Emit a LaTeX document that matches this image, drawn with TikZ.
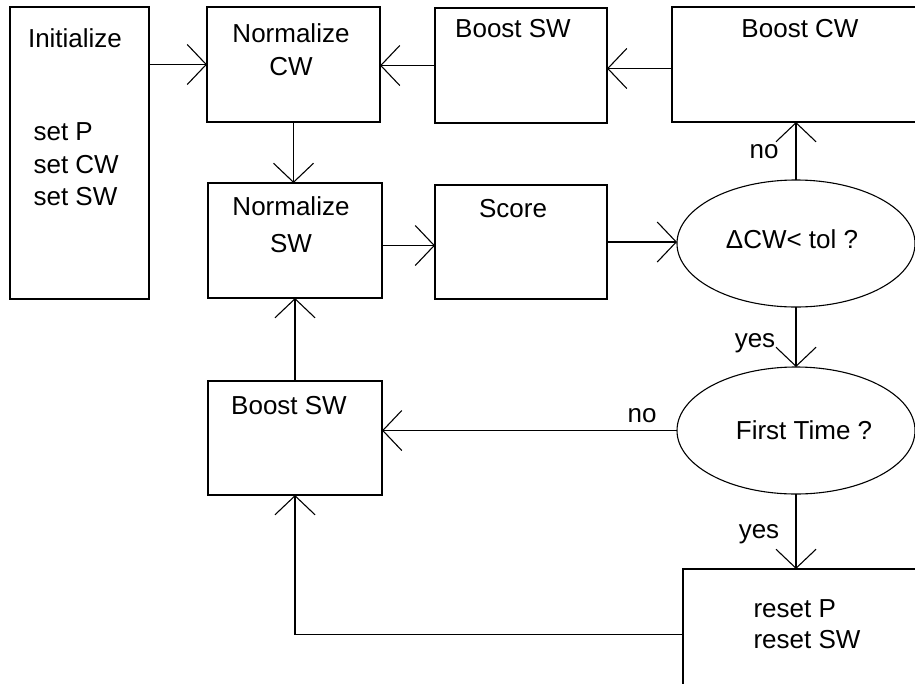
\documentclass[tikz,border=0pt]{standalone}
\usepackage{fontspec}
\setmainfont{Liberation Sans}
\usetikzlibrary{shapes.geometric,arrows.meta,calc}
\begin{document}
\begin{tikzpicture}[x=1pt,y=-1pt, line width=1.1pt,
  box/.style={draw, rectangle, inner sep=0pt, outer sep=0pt},
  dec/.style={draw, ellipse, inner sep=0pt, outer sep=0pt, minimum width=238pt, minimum height=127pt},
  txt/.style={inner sep=0pt, font=\fontsize{26}{30}\selectfont, anchor=base},
  ltxt/.style={txt, anchor=base west},
  arr/.style={-{Straight Barb[length=19pt,width=40pt]}}]
\useasboundingbox (0,0) rectangle (915,683);
\fill[white] (0,0) rectangle (915,683);
\clip (0,0) rectangle (915,683);
% boxes
\node[box, minimum width=139pt, minimum height=292pt] (init) at (79.5,153) {};
\node[box, minimum width=173pt, minimum height=115pt] (ncw) at (293.5,64.5) {};
\node[box, minimum width=172pt, minimum height=115pt] (bswa) at (521,65.5) {};
\node[box, minimum width=258pt, minimum height=115pt] (bcw) at (801,64.5) {};
\node[box, minimum width=174pt, minimum height=115pt] (nsw) at (295,240.5) {};
\node[box, minimum width=172pt, minimum height=114pt] (score) at (521,242) {};
\node[box, minimum width=174pt, minimum height=114pt] (bswb) at (295,438) {};
\node[box, minimum width=247pt, minimum height=131pt] (reset) at (806.5,634.5) {};
\node[dec] (ea) at (796,243.5) {};
\node[dec] (eb) at (796,430.5) {};
% texts
\node[txt] (tinit) at (75,47) {Initialize};
\node[ltxt] (tsetp) at (33,140) {set P};
\node[ltxt] (tsetcw) at (33,173) {set CW};
\node[ltxt] (tsetsw) at (33,205) {set SW};
\node[txt] (tncwa) at (291,42) {Normalize};
\node[txt] (tncwb) at (291,75) {CW};
\node[txt] (tbswa) at (513,37) {Boost SW};
\node[txt] (tbcw) at (800,37) {Boost CW};
\node[txt] (tnswa) at (291,215) {Normalize};
\node[txt] (tnswb) at (291,252) {SW};
\node[txt] (tscore) at (513,217) {Score};
\node[txt] (tea) at (792,248) {ΔCW< tol ?};
\node[txt] (tbswb) at (289,414) {Boost SW};
\node[txt] (teb) at (804,439) {First Time ?};
\node[ltxt] (tresp) at (753,617) {reset P};
\node[ltxt] (tressw) at (753,648) {reset SW};
% labels
\node[txt] (lnoa) at (764,158) {no};
\node[txt] (lyesa) at (755,347) {yes};
\node[txt] (lnob) at (642,422) {no};
\node[txt] (lyesb) at (759,538) {yes};
% connectors
\draw[arr] (init.east |- ncw.west) -- (ncw.west);
\draw[arr] (bswa.west) -- (bswa.west -| ncw.east);
\coordinate (cbcw) at ([yshift=-4pt]bcw.west);
\draw[arr] (cbcw) -- (cbcw -| bswa.east);
\draw[arr] (ncw.south) -- (ncw.south |- nsw.north);
\coordinate (cnsw) at ([yshift=-5pt]nsw.east);
\draw[arr] (cnsw) -- (cnsw -| score.west);
\draw[arr] (score.east) -- (score.east -| ea.west);
\draw[arr] (ea.north) -- (ea.north |- bcw.south);
\draw[arr] (ea.south) -- (eb.north);
\draw[arr] (eb.west) -- (eb.west -| bswb.east);
\draw[arr] (eb.south) -- (eb.south |- reset.north);
\draw[arr] (reset.west) -- (reset.west -| bswb.south) -- (bswb.south);
\draw[arr] (bswb.north) -- (nsw.south);
\end{tikzpicture}
\end{document}
